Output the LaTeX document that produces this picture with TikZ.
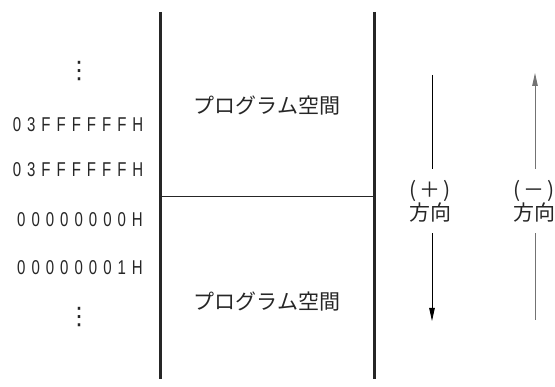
\documentclass[tikz,border=0pt]{standalone}
\usepackage{fontspec}
\setmainfont{Noto Sans CJK JP}
\newfontfamily\hexfont[FakeStretch=0.75,LetterSpace=30]{Liberation Sans}
\newfontfamily\dotfont{DejaVu Sans}
\usetikzlibrary{arrows.meta,positioning}

\begin{document}
\begin{tikzpicture}[x=1pt,y=-1pt,
  >={Triangle[length=13pt,width=5.5pt]},
  every node/.style={font=\fontsize{21}{23}\selectfont,align=center,inner sep=0pt},
  wall/.style={line width=3pt,black!85},
  divider/.style={line width=0.9pt,black!85},
  area/.style={text=black!85},
  addr/.style={font=\hexfont\fontsize{20}{24}\selectfont,text=black!85},
  vdot/.style={font=\dotfont\fontsize{24}{24}\selectfont,text=black!85},
  dirlabel/.style={text=black!85,inner ysep=11pt},
  dir/.style={line width=0.9pt},
  dirgray/.style={line width=0.9pt,black!55}]
  \useasboundingbox (0,0) rectangle (555,387);

  % memory column
  \coordinate (lt) at (160,12);
  \coordinate (lb) at (160,379);
  \coordinate (rt) at (374,12);
  \coordinate (rb) at (374,379);
  \coordinate (ml) at (160,196);
  \coordinate (mr) at (374,196);
  \draw[wall] (lt) -- (lb);
  \draw[wall] (rt) -- (rb);
  \draw[divider] (ml) -- (mr);
  \node[area] (upper) at (267,106) {プログラム空間};
  \node[area] (lower) at (267,302) {プログラム空間};

  % addresses
  \node[vdot] (dotstop) at (79,71) {⋮};
  \node[addr] (hexa) at (78,125) {03FFFFFFH};
  \node[addr] (hexb) at (78,170) {03FFFFFFH};
  \node[addr] (zero) at (80,220) {00000000H};
  \node[addr] (one) at (80,268) {00000001H};
  \node[vdot] (dotsbot) at (79,317) {⋮};

  % directions
  \node[dirlabel] (plus) at (430,201) {(\kern.15em＋\kern.15em)\\方向};
  \node[dirlabel] (minus) at (534,201) {(\kern.15em－\kern.15em)\\方向};
  \coordinate (plustop) at (432,75);
  \coordinate (plusend) at (432,321);
  \coordinate (minustop) at (535,73);
  \coordinate (minusend) at (535,320);
  \draw[dir] (plustop) -- (plus.north -| plustop);
  \draw[dir,->] (plus.south -| plusend) -- (plusend);
  \draw[dirgray] (minusend) -- (minus.south -| minusend);
  \draw[dirgray,->] (minus.north -| minustop) -- (minustop);
\end{tikzpicture}
\end{document}
